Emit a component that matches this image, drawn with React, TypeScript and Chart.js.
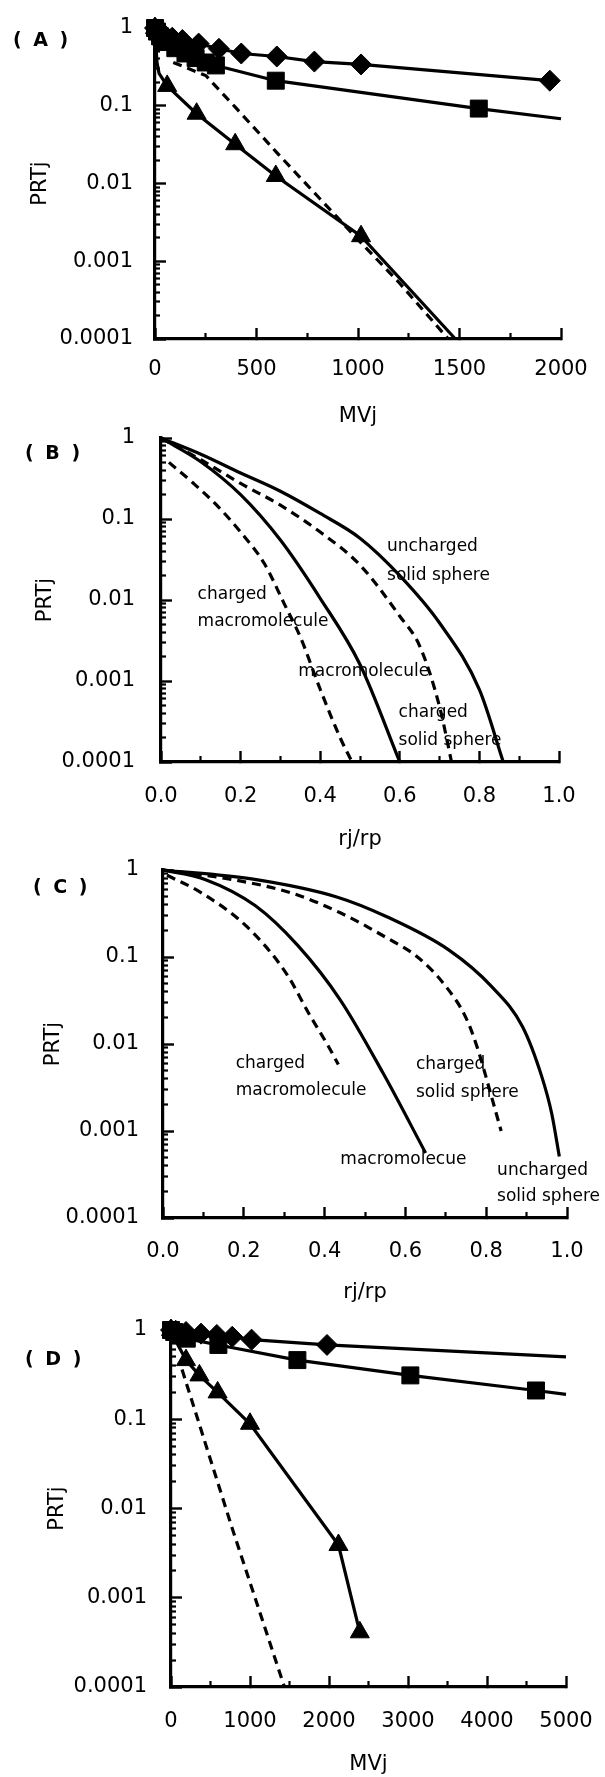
import React, { useEffect, useRef } from "react";
import { Chart, registerables } from "chart.js";

Chart.register(...registerables);

// ---------------- tick values / labels ----------------
const Y_TICK_VALUES = [0.0001, 0.001, 0.01, 0.1, 1];
const Y_TICK_LABELS = ["0.0001", "0.001", "0.01", "0.1", "1"];
const Y_MINOR_DECADES = [0.0001, 0.001, 0.01, 0.1];
const Y_MINOR_DIGITS = [2, 3, 4, 5, 6, 7, 8, 9];

const MV2000_TICKS = [0, 500, 1000, 1500, 2000];
const MV2000_LABELS = ["0", "500", "1000", "1500", "2000"];
const MV2000_MINOR = [250, 750, 1250, 1750];

const R_TICKS = [0, 0.2, 0.4, 0.6, 0.8, 1.0];
const R_LABELS = ["0.0", "0.2", "0.4", "0.6", "0.8", "1.0"];
const R_MINOR = [0.1, 0.3, 0.5, 0.7, 0.9];

const MV5000_TICKS = [0, 1000, 2000, 3000, 4000, 5000];
const MV5000_LABELS = ["0", "1000", "2000", "3000", "4000", "5000"];
const MV5000_MINOR = [500, 1500, 2500, 3500, 4500];

// ---------------- panel A data ----------------
const A_DIAMOND_MV = [0, 10, 25, 50, 85, 135, 215, 315, 425, 600, 785, 1015, 1945];
const A_DIAMOND_PRT = [1, 0.93, 0.86, 0.8, 0.75, 0.7, 0.63, 0.54, 0.47, 0.43, 0.37, 0.34, 0.21];
const A_DIAMOND_MARKED = [1, 1, 1, 1, 1, 1, 1, 1, 1, 1, 1, 1, 1];

const A_SQUARE_MV = [0, 10, 25, 50, 100, 150, 200, 250, 300, 595, 1595, 2000];
const A_SQUARE_PRT = [1, 0.9, 0.78, 0.66, 0.55, 0.47, 0.41, 0.36, 0.33, 0.21, 0.092, 0.068];
const A_SQUARE_MARKED = [1, 1, 1, 1, 1, 1, 1, 1, 1, 1, 1, 0];

const A_TRIANGLE_MV = [0, 5, 10, 20, 60, 205, 395, 595, 1015, 1480];
const A_TRIANGLE_PRT = [1, 0.55, 0.36, 0.26, 0.18, 0.079, 0.032, 0.0125, 0.0021, 0.0001];
const A_TRIANGLE_MARKED = [1, 0, 0, 0, 1, 1, 1, 1, 1, 0];

const A_DASH_MV = [90, 250, 400, 600, 800, 1000, 1200, 1445];
const A_DASH_PRT = [0.36, 0.245, 0.093, 0.025, 0.0069, 0.0019, 0.00054, 0.0001];

// ---------------- panel B data ----------------
const B_UNCHARGED_R = [0, 0.1, 0.2, 0.3, 0.4, 0.5, 0.6, 0.7, 0.8, 0.86];
const B_UNCHARGED_PRT = [1, 0.63, 0.37, 0.22, 0.117, 0.058, 0.02, 0.0052, 0.00078, 0.0001];

const B_MACRO_R = [0, 0.1, 0.2, 0.3, 0.4, 0.5, 0.6];
const B_MACRO_PRT = [1, 0.51, 0.2, 0.055, 0.0105, 0.0016, 0.0001];

const B_CHSPHERE_R = [0, 0.1, 0.2, 0.3, 0.4, 0.5, 0.6, 0.65, 0.7, 0.73];
const B_CHSPHERE_PRT = [1, 0.54, 0.275, 0.148, 0.069, 0.027, 0.0063, 0.0027, 0.00048, 0.0001];

const B_CHMACRO_R = [0.02, 0.08, 0.14, 0.2, 0.26, 0.31, 0.35, 0.4, 0.45, 0.48];
const B_CHMACRO_PRT = [0.5, 0.28, 0.148, 0.069, 0.028, 0.0089, 0.0035, 0.00079, 0.0002, 0.0001];

const B_LABEL_TEXT = ["uncharged", "solid sphere", "charged", "macromolecule", "macromolecule", "charged", "solid sphere"];
const B_LABEL_R = [0.568, 0.568, 0.092, 0.092, 0.345, 0.597, 0.597];
const B_LABEL_PRT = [0.0457, 0.02, 0.0117, 0.0054, 0.0013, 0.00041, 0.000186];

// ---------------- panel C data ----------------
const C_UNCHARGED_R = [0, 0.219, 0.43, 0.554, 0.708, 0.813, 0.89, 0.937, 0.962, 0.981];
const C_UNCHARGED_PRT = [1, 0.79, 0.49, 0.29, 0.12, 0.046, 0.0158, 0.0043, 0.0016, 0.00051];

const C_CHSPHERE_R = [0, 0.17, 0.32, 0.44, 0.55, 0.63, 0.7, 0.75, 0.78, 0.81, 0.837];
const C_CHSPHERE_PRT = [1, 0.78, 0.54, 0.32, 0.17, 0.1, 0.046, 0.02, 0.0085, 0.0028, 0.001];

const C_MACRO_R = [0, 0.104, 0.228, 0.334, 0.439, 0.545, 0.65];
const C_MACRO_PRT = [1, 0.78, 0.39, 0.135, 0.032, 0.0046, 0.00056];

const C_CHMACRO_R = [0.01, 0.094, 0.209, 0.305, 0.362, 0.41, 0.434];
const C_CHMACRO_PRT = [0.87, 0.55, 0.22, 0.065, 0.022, 0.0093, 0.0058];

const C_LABEL_TEXT = ["charged", "macromolecule", "charged", "solid sphere", "macromolecue", "uncharged", "solid sphere"];
const C_LABEL_R = [0.18, 0.18, 0.626, 0.626, 0.439, 0.827, 0.827];
const C_LABEL_PRT = [0.006, 0.00295, 0.00575, 0.0028, 0.00047, 0.00035, 0.000178];

// ---------------- panel D data ----------------
const D_DIAMOND_MV = [0, 60, 190, 380, 580, 775, 1020, 1975, 5000];
const D_DIAMOND_PRT = [1, 0.98, 0.95, 0.91, 0.88, 0.84, 0.78, 0.68, 0.5];
const D_DIAMOND_MARKED = [1, 1, 1, 1, 1, 1, 1, 1, 0];

const D_SQUARE_MV = [0, 40, 100, 200, 600, 1600, 3030, 4620, 5000];
const D_SQUARE_PRT = [1, 0.95, 0.88, 0.8, 0.68, 0.46, 0.31, 0.21, 0.19];
const D_SQUARE_MARKED = [1, 1, 1, 1, 1, 1, 1, 1, 0];

const D_TRIANGLE_MV = [0, 80, 190, 360, 590, 1000, 2120, 2390];
const D_TRIANGLE_PRT = [1, 0.7, 0.46, 0.31, 0.2, 0.089, 0.0039, 0.00041];
const D_TRIANGLE_MARKED = [1, 0, 1, 1, 1, 1, 1, 1];

const D_DASH_MV = [140, 780, 1436];
const D_DASH_PRT = [0.36, 0.0058, 0.0001];

// ---------------- styling helpers ----------------
const FONT_FAMILY = "'DejaVu Sans', Verdana, sans-serif";
const TICK_FONT = { family: FONT_FAMILY, size: 21 };
const TITLE_FONT = { family: FONT_FAMILY, size: 21 };
const LABEL_FONT = `17px ${FONT_FAMILY}`;
const INK = "#000";

type Marker = "diamond" | "square" | "triangle" | null;

function lineDataset(xs: number[], ys: number[], marker: Marker, marked: number[] | null, dashed: boolean, smooth: boolean) {
  const style = marker === "diamond" ? "rectRot" : marker === "square" ? "rect" : "triangle";
  const r = marker === "diamond" ? 10.5 : marker === "square" ? 12 : 11;
  return {
    data: xs.map((x, i) => ({ x, y: ys[i] })),
    borderColor: INK,
    backgroundColor: INK,
    borderWidth: 3.2,
    borderDash: dashed ? [9, 6] : [],
    pointStyle: style,
    pointRadius: marker && marked ? (c: any) => (marked[c.dataIndex] ? r : 0) : 0,
    pointBorderWidth: 1,
    pointBorderColor: INK,
    pointBackgroundColor: INK,
    pointHoverRadius: 0,
    tension: 0,
    cubicInterpolationMode: smooth ? "monotone" : "default",
    fill: false,
    clip: false,
  };
}

interface PanelCfg {
  top: number;
  height: number;
  left: number;
  right: number;
  plotTop: number;
  plotBottom: number;
  xMax: number;
  xTicks: number[];
  xLabels: string[];
  xMinor: number[];
  xTitle: string;
  xTickPad: number;
  xTitlePad: number;
  yTickPad: number;
  yTitlePad: number;
  datasets: any[];
  labels?: { text: string[]; x: number[]; y: number[] };
}

function buildConfig(p: PanelCfg): any {
  const minorY: number[] = [];
  Y_MINOR_DECADES.forEach((d) => Y_MINOR_DIGITS.forEach((k) => minorY.push(d * k)));
  const plugins: any[] = [];
  if (p.labels) {
    const lab = p.labels;
    plugins.push({
      id: "curveLabels",
      afterDatasetsDraw(chart: any) {
        const { ctx } = chart;
        const sx = chart.scales.x;
        const sy = chart.scales.y;
        ctx.save();
        ctx.font = LABEL_FONT;
        ctx.fillStyle = INK;
        ctx.textAlign = "left";
        ctx.textBaseline = "middle";
        lab.text.forEach((t, i) => {
          ctx.fillText(t, sx.getPixelForValue(lab.x[i]), sy.getPixelForValue(lab.y[i]));
        });
        ctx.restore();
      },
    });
  }
  const zeroPad = (s: any) => {
    s.paddingTop = 0;
    s.paddingBottom = 0;
    s.paddingLeft = 0;
    s.paddingRight = 0;
  };
  return {
    type: "line",
    data: { datasets: p.datasets },
    plugins,
    options: {
      animation: false,
      responsive: false,
      maintainAspectRatio: false,
      events: [],
      layout: { padding: { left: 0, right: 605 - p.right, top: p.plotTop, bottom: 0 } },
      plugins: { legend: { display: false }, tooltip: { enabled: false }, title: { display: false } },
      scales: {
        x: {
          type: "linear",
          position: "bottom",
          weight: 1,
          min: 0,
          max: p.xMax,
          afterBuildTicks: (s: any) => {
            s.ticks = p.xTicks.map((v) => ({ value: v }));
          },
          afterFit: (s: any) => {
            s.height = p.height - p.plotBottom;
            zeroPad(s);
          },
          ticks: {
            autoSkip: false,
            maxRotation: 0,
            minRotation: 0,
            padding: p.xTickPad,
            color: INK,
            font: TICK_FONT,
            callback: (_v: any, i: number) => p.xLabels[i],
          },
          grid: { drawOnChartArea: false, drawTicks: true, tickLength: -11, tickWidth: 2.4, tickColor: INK },
          border: { display: true, color: INK, width: 3.2 },
          title: { display: true, text: p.xTitle, color: INK, font: TITLE_FONT, padding: { top: 0, bottom: p.xTitlePad } },
        },
        x2: {
          type: "linear",
          position: "bottom",
          axis: "x",
          weight: 0,
          min: 0,
          max: p.xMax,
          afterBuildTicks: (s: any) => {
            s.ticks = p.xMinor.map((v) => ({ value: v }));
          },
          afterFit: (s: any) => {
            s.height = 0;
            zeroPad(s);
          },
          ticks: { display: false, autoSkip: false },
          grid: { drawOnChartArea: false, drawTicks: true, tickLength: -6, tickWidth: 2.2, tickColor: INK },
          border: { display: false },
        },
        y: {
          type: "logarithmic",
          position: "left",
          weight: 1,
          min: 0.0001,
          max: 1,
          afterBuildTicks: (s: any) => {
            s.ticks = Y_TICK_VALUES.map((v) => ({ value: v }));
          },
          afterFit: (s: any) => {
            s.width = p.left;
            zeroPad(s);
          },
          ticks: {
            autoSkip: false,
            padding: p.yTickPad,
            color: INK,
            font: TICK_FONT,
            callback: (_v: any, i: number) => Y_TICK_LABELS[i],
          },
          grid: { drawOnChartArea: false, drawTicks: true, tickLength: -11, tickWidth: 2.4, tickColor: INK },
          border: { display: true, color: INK, width: 3.2 },
          title: { display: true, text: "PRTj", color: INK, font: TITLE_FONT, padding: { top: p.yTitlePad, bottom: 0 } },
        },
        y2: {
          type: "logarithmic",
          position: "left",
          axis: "y",
          weight: 0,
          min: 0.0001,
          max: 1,
          afterBuildTicks: (s: any) => {
            s.ticks = minorY.map((v) => ({ value: v }));
          },
          afterFit: (s: any) => {
            s.width = 0;
            zeroPad(s);
          },
          ticks: { display: false, autoSkip: false },
          grid: { drawOnChartArea: false, drawTicks: true, tickLength: -5, tickWidth: 2.2, tickColor: INK },
          border: { display: false },
        },
      },
    },
  };
}

const PANELS: PanelCfg[] = [
  {
    top: 0, height: 430, left: 155, right: 561, plotTop: 28, plotBottom: 339,
    xMax: 2000, xTicks: MV2000_TICKS, xLabels: MV2000_LABELS, xMinor: MV2000_MINOR, xTitle: "MVj",
    xTickPad: 29.4, xTitlePad: 0.4, yTickPad: 33, yTitlePad: 28.4,
    datasets: [
      lineDataset(A_DASH_MV, A_DASH_PRT, null, null, true, false),
      lineDataset(A_DIAMOND_MV, A_DIAMOND_PRT, "diamond", A_DIAMOND_MARKED, false, false),
      lineDataset(A_SQUARE_MV, A_SQUARE_PRT, "square", A_SQUARE_MARKED, false, false),
      lineDataset(A_TRIANGLE_MV, A_TRIANGLE_PRT, "triangle", A_TRIANGLE_MARKED, false, false),
    ],
  },
  {
    top: 415, height: 445, left: 161, right: 559, plotTop: 23, plotBottom: 347,
    xMax: 1, xTicks: R_TICKS, xLabels: R_LABELS, xMinor: R_MINOR, xTitle: "rj/rp",
    xTickPad: 33.4, xTitlePad: 7.4, yTickPad: 37, yTitlePad: 33.4,
    datasets: [
      lineDataset(B_UNCHARGED_R, B_UNCHARGED_PRT, null, null, false, true),
      lineDataset(B_MACRO_R, B_MACRO_PRT, null, null, false, true),
      lineDataset(B_CHSPHERE_R, B_CHSPHERE_PRT, null, null, true, true),
      lineDataset(B_CHMACRO_R, B_CHMACRO_PRT, null, null, true, true),
    ],
    labels: { text: B_LABEL_TEXT, x: B_LABEL_R, y: B_LABEL_PRT },
  },
  {
    top: 845, height: 460, left: 163, right: 567, plotTop: 25, plotBottom: 373,
    xMax: 1, xTicks: R_TICKS, xLabels: R_LABELS, xMinor: R_MINOR, xTitle: "rj/rp",
    xTickPad: 32.4, xTitlePad: 0, yTickPad: 35, yTitlePad: 41.4,
    datasets: [
      lineDataset(C_UNCHARGED_R, C_UNCHARGED_PRT, null, null, false, true),
      lineDataset(C_MACRO_R, C_MACRO_PRT, null, null, false, true),
      lineDataset(C_CHSPHERE_R, C_CHSPHERE_PRT, null, null, true, true),
      lineDataset(C_CHMACRO_R, C_CHMACRO_PRT, null, null, true, true),
    ],
    labels: { text: C_LABEL_TEXT, x: C_LABEL_R, y: C_LABEL_PRT },
  },
  {
    top: 1305, height: 472, left: 171, right: 566, plotTop: 25, plotBottom: 382,
    xMax: 5000, xTicks: MV5000_TICKS, xLabels: MV5000_LABELS, xMinor: MV5000_MINOR, xTitle: "MVj",
    xTickPad: 33.4, xTitlePad: 0, yTickPad: 35, yTitlePad: 45.4,
    datasets: [
      lineDataset(D_DASH_MV, D_DASH_PRT, null, null, true, false),
      lineDataset(D_DIAMOND_MV, D_DIAMOND_PRT, "diamond", D_DIAMOND_MARKED, false, false),
      lineDataset(D_SQUARE_MV, D_SQUARE_PRT, "square", D_SQUARE_MARKED, false, false),
      lineDataset(D_TRIANGLE_MV, D_TRIANGLE_PRT, "triangle", D_TRIANGLE_MARKED, false, false),
    ],
  },
];

const PANEL_LETTERS = ["( A )", "( B )", "( C )", "( D )"];
const LETTER_POS = [
  { left: 13, top: 39 },
  { left: 25, top: 452 },
  { left: 33, top: 886 },
  { left: 25, top: 1358 },
];

function Panel({ cfg }: { cfg: PanelCfg }) {
  const ref = useRef<HTMLCanvasElement>(null);
  useEffect(() => {
    const chart = new Chart(ref.current as HTMLCanvasElement, buildConfig(cfg));
    return () => chart.destroy();
  }, [cfg]);
  return (
    <canvas
      ref={ref}
      width={605}
      height={cfg.height}
      style={{ position: "absolute", left: 0, top: cfg.top, width: 605, height: cfg.height, display: "block" }}
    />
  );
}

export default function App() {
  return (
    <div style={{ position: "absolute", left: 0, top: 0, width: 605, height: 1777, background: "#fff", overflow: "hidden" }}>
      {PANELS.map((p, i) => (
        <Panel key={i} cfg={p} />
      ))}
      {PANEL_LETTERS.map((t, i) => (
        <div
          key={t}
          style={{
            position: "absolute",
            left: LETTER_POS[i].left,
            top: LETTER_POS[i].top,
            transform: "translateY(-50%)",
            fontFamily: FONT_FAMILY,
            fontWeight: 700,
            fontSize: 19,
            letterSpacing: 2.5,
            lineHeight: "24px",
            color: INK,
            whiteSpace: "pre",
          }}
        >
          {t}
        </div>
      ))}
    </div>
  );
}
